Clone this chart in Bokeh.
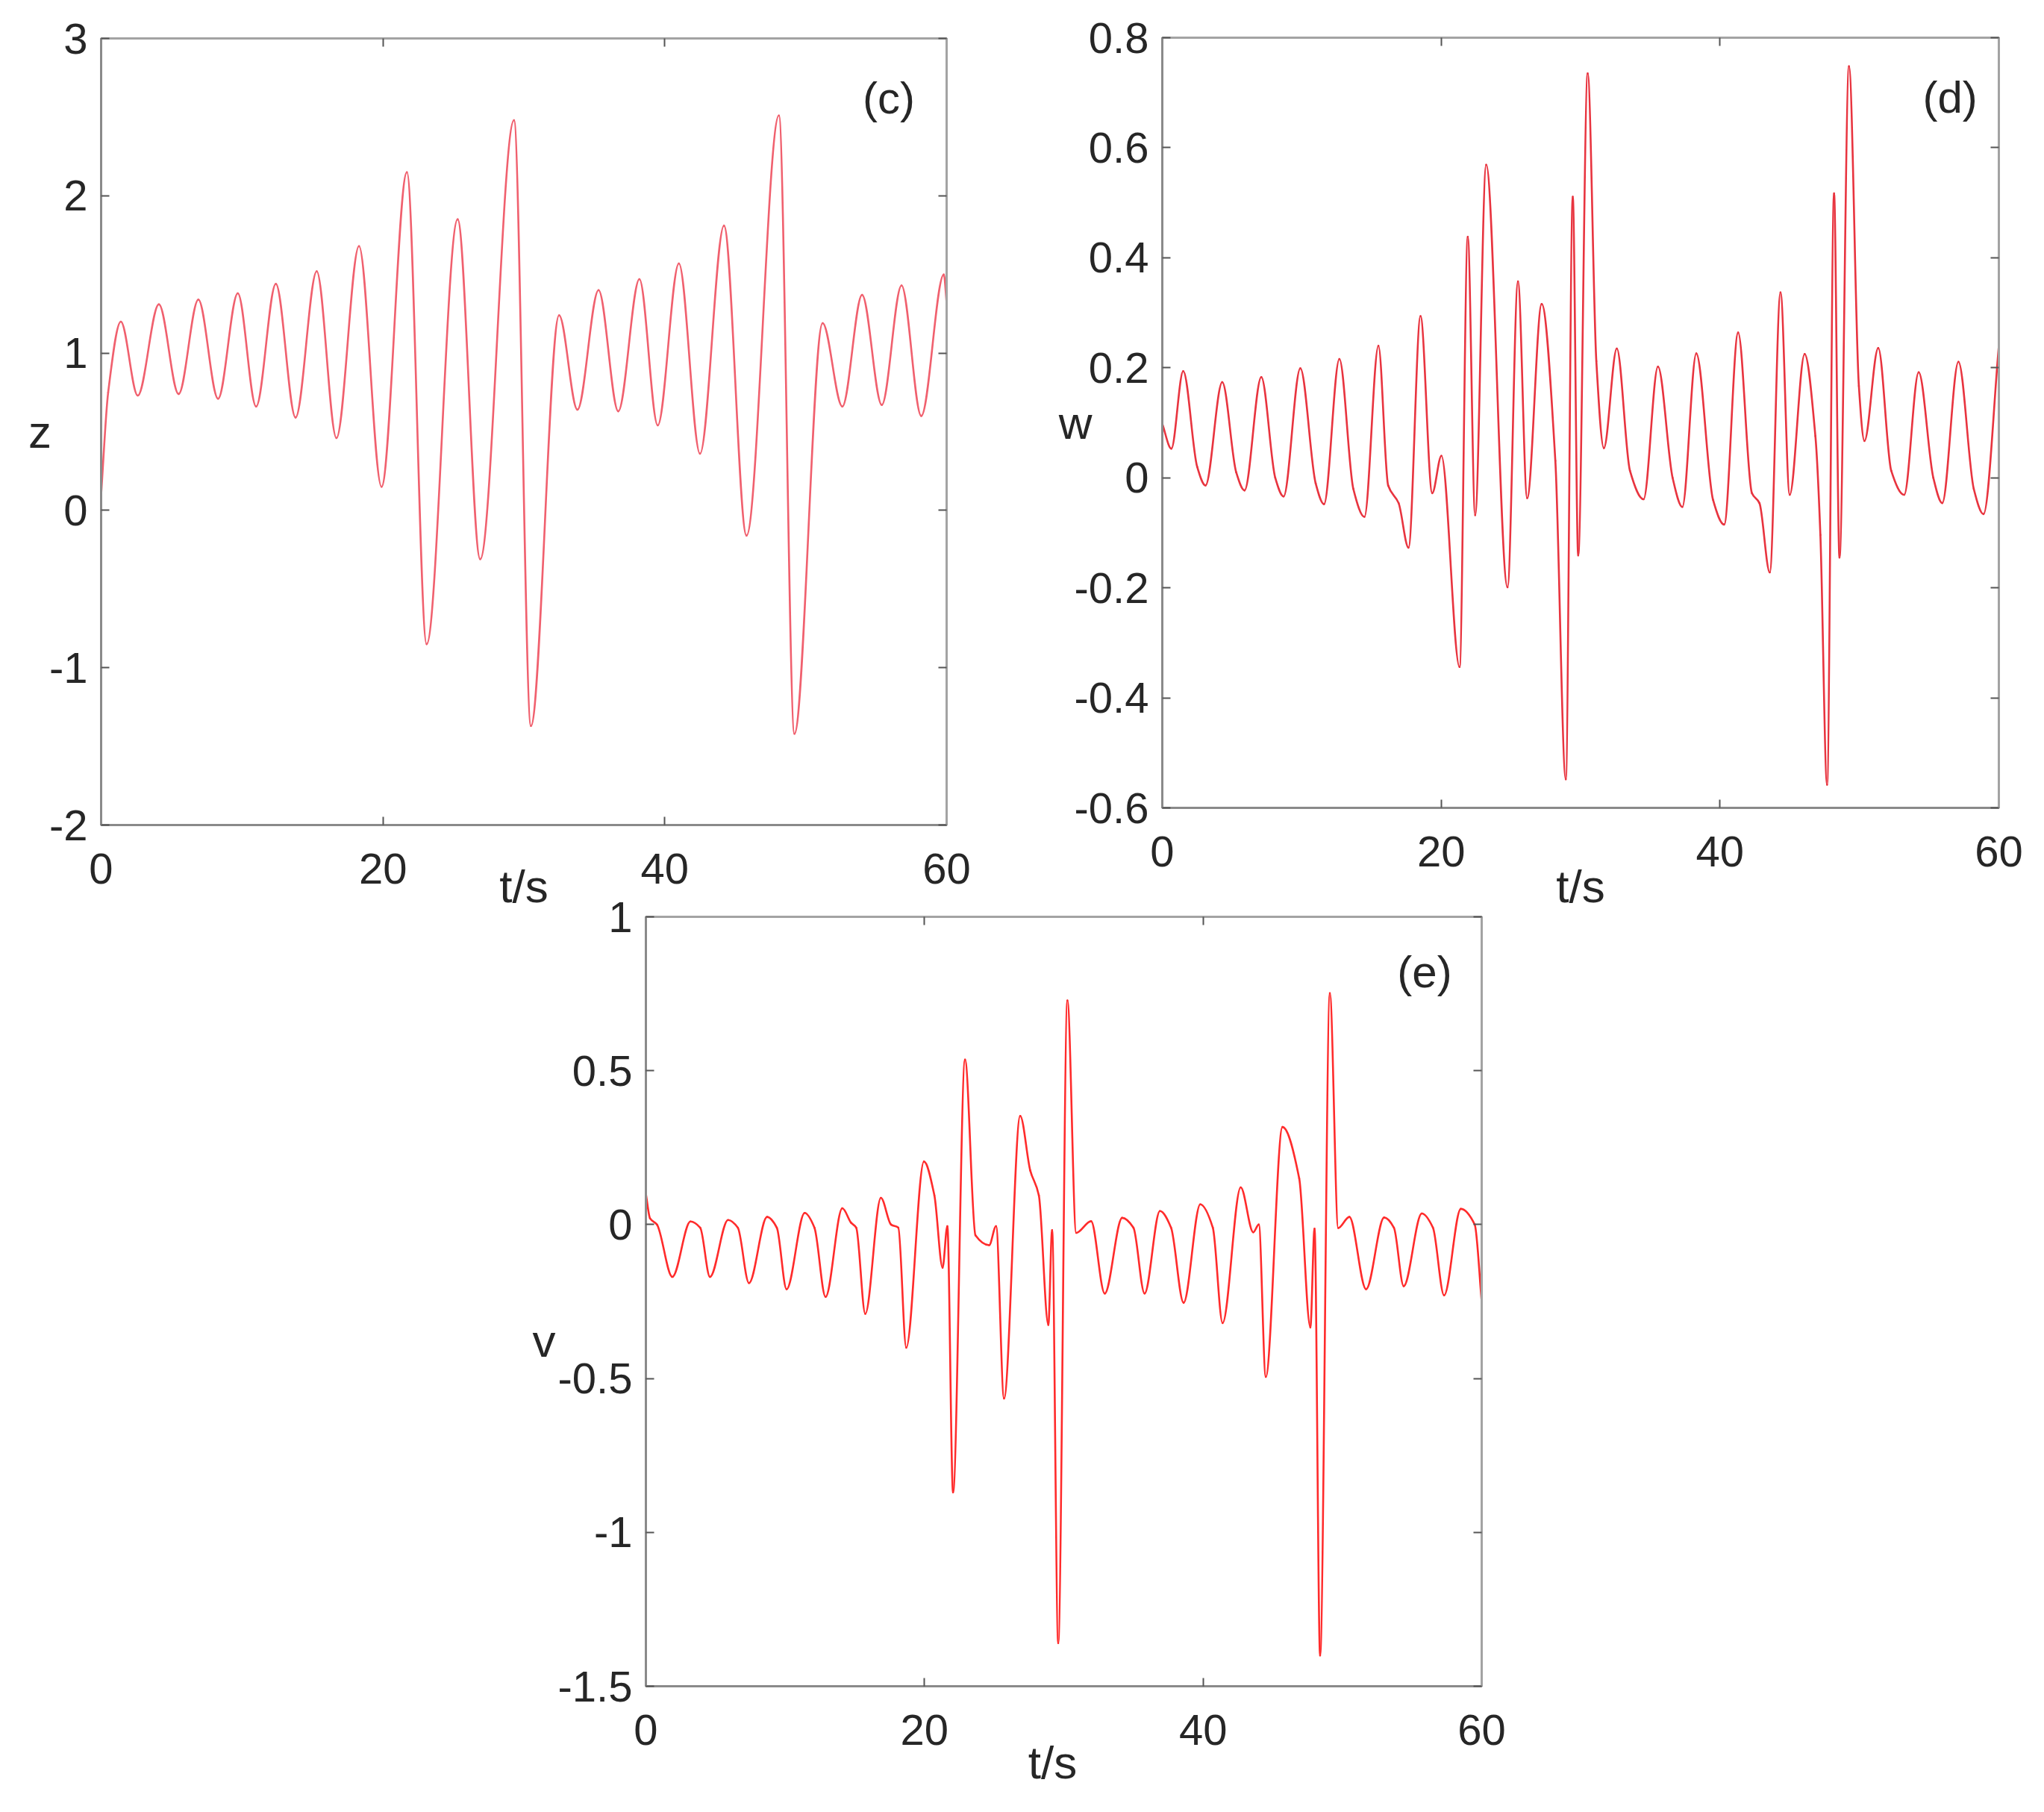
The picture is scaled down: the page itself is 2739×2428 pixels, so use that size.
import numpy as np
from bokeh.plotting import figure
from bokeh.models import (Range1d, FixedTicker, LinearAxis, CustomJSTickFormatter,
                          Label, Spacer, ColumnDataSource)
from bokeh.layouts import row, column
from bokeh.embed import file_html
from bokeh.resources import INLINE

# ---------------- data ----------------
x_ticks = [0, 20, 40, 60]
x_tick_labels = ["0", "20", "40", "60"]

# panel (c): z(t)
t_z = [0.0, 0.5, 1.4, 2.6, 4.1, 5.5, 6.9, 8.3, 9.7, 11.0, 12.4, 13.8, 15.3, 16.7, 18.3,
       19.9, 21.7, 23.1, 25.3, 26.9, 29.3, 30.5, 32.5, 33.8, 35.3, 36.7, 38.2, 39.5,
       41.0, 42.5, 44.2, 45.8, 48.1, 49.2, 51.2, 52.6, 54.0, 55.4, 56.8, 58.2, 59.8, 60.0]
z_vals = [0.10, 0.75, 1.20, 0.73, 1.31, 0.74, 1.34, 0.71, 1.38, 0.66, 1.44, 0.59, 1.52, 0.46, 1.68,
          0.15, 2.15, -0.85, 1.85, -0.31, 2.48, -1.37, 1.24, 0.64, 1.40, 0.63, 1.47, 0.54,
          1.57, 0.36, 1.81, -0.16, 2.51, -1.42, 1.19, 0.66, 1.37, 0.67, 1.43, 0.60, 1.50, 1.32]
z_ticks = [-2, -1, 0, 1, 2, 3]
z_tick_labels = ["-2", "-1", "0", "1", "2", "3"]

# panel (d): w(t)
t_w = [0.0, 0.65, 1.5, 2.5, 3.1, 4.3, 5.3, 5.9, 7.1, 8.1, 8.7, 9.9, 11.0, 11.6, 12.7, 13.7,
       14.5, 15.5, 16.2, 16.95, 17.66, 18.52, 19.36, 20.02, 21.32, 21.91, 22.44, 23.23,
       24.76, 25.51, 26.17, 27.21, 28.19, 28.94, 29.44, 29.83, 30.51, 31.13, 31.67, 32.6,
       33.54, 34.52, 35.55, 36.6, 37.3, 38.3, 39.5, 40.3, 41.3, 42.29, 42.83, 43.57, 44.34,
       45.0, 46.07, 46.84, 47.2, 47.68, 48.18, 48.57, 49.25, 49.96, 50.36, 51.35, 52.28,
       53.21, 54.25, 55.3, 55.94, 57.1, 58.2, 58.9, 60.0]
w_vals = [0.098, 0.053, 0.194, 0.02, -0.014, 0.174, 0.01, -0.023, 0.183, 0.0, -0.034, 0.199,
          -0.01, -0.048, 0.216, -0.02, -0.071, 0.240, -0.014, -0.046, -0.127, 0.294, -0.028,
          0.040, -0.344, 0.438, -0.068, 0.569, -0.199, 0.357, -0.037, 0.316, 0.031, -0.548,
          0.511, -0.141, 0.735, 0.212, 0.054, 0.235, 0.013, -0.039, 0.202, 0.0, -0.053, 0.226,
          -0.04, -0.085, 0.264, -0.028, -0.046, -0.172, 0.337, -0.031, 0.225, 0.076, -0.104,
          -0.558, 0.517, -0.145, 0.748, 0.167, 0.067, 0.236, 0.013, -0.031, 0.192, 0.0,
          -0.046, 0.211, -0.02, -0.066, 0.240]
w_ticks = [-0.6, -0.4, -0.2, 0, 0.2, 0.4, 0.6, 0.8]
w_tick_labels = ["-0.6", "-0.4", "-0.2", "0", "0.2", "0.4", "0.6", "0.8"]

# panel (e): v(t)
t_v = [0.0, 0.3, 0.8, 1.9, 3.2, 3.9, 4.6, 5.9, 6.6, 7.4, 8.7, 9.4, 10.1, 11.4, 12.1, 12.9,
       14.1, 14.73, 15.1, 15.75, 16.87, 17.6, 18.12, 18.69, 19.96, 20.71, 21.3, 21.64, 22.05,
       22.91, 23.66, 24.64, 25.14, 25.71, 26.87, 27.59, 28.21, 28.89, 29.16, 29.6, 30.26,
       30.89, 31.96, 32.94, 34.19, 35.0, 35.8, 36.9, 37.7, 38.6, 39.8, 40.7, 41.4, 42.7,
       43.6, 44.0, 44.5, 45.7, 46.9, 47.7, 48.0, 48.4, 49.1, 49.7, 50.5, 51.7, 53.0, 53.7,
       54.4, 55.7, 56.5, 57.3, 58.5, 59.5, 60.0]
v_vals = [0.10, 0.02, 0.0, -0.17, 0.01, -0.01, -0.17, 0.015, -0.01, -0.19, 0.025, -0.01,
          -0.21, 0.038, -0.01, -0.235, 0.053, 0.006, -0.01, -0.29, 0.087, 0.0, -0.01, -0.40,
          0.205, 0.095, -0.14, -0.005, -0.87, 0.536, -0.035, -0.067, -0.005, -0.565, 0.353,
          0.176, 0.095, -0.326, -0.018, -1.36, 0.728, -0.027, 0.011, -0.224, 0.022, -0.01,
          -0.224, 0.044, -0.01, -0.254, 0.066, -0.01, -0.32, 0.121, -0.025, 0.0, -0.495,
          0.317, 0.15, -0.334, -0.013, -1.40, 0.752, -0.011, 0.025, -0.21, 0.023, -0.01,
          -0.20, 0.036, -0.01, -0.23, 0.051, 0.0, -0.25]
v_ticks = [-1.5, -1, -0.5, 0, 0.5, 1]
v_tick_labels = ["-1.5", "-1", "-0.5", "0", "0.5", "1"]

# ---------------- styling ----------------
FONT = "Liberation Sans"
TXT = "#262626"
TICK_FS = "58px"
LABEL_FS = "62px"
PANEL_FS = "60px"
FRAME = "#a3a3a3"
AXIS = "#8a8a8a"


def smooth_source(t, v):
    """Monotone cubic Bezier pieces through the read points."""
    t = np.asarray(t, float)
    v = np.asarray(v, float)
    h = np.diff(t)
    d = np.diff(v) / h
    m = np.zeros_like(v)
    m[0] = d[0]
    m[-1] = d[-1]
    for k in range(1, len(v) - 1):
        if d[k - 1] * d[k] > 0:
            m[k] = 2.0 / (1.0 / d[k - 1] + 1.0 / d[k])
    return ColumnDataSource(dict(
        x0=t[:-1], y0=v[:-1], x1=t[1:], y1=v[1:],
        cx0=t[:-1] + h / 3, cy0=v[:-1] + m[:-1] * h / 3,
        cx1=t[1:] - h / 3, cy1=v[1:] - m[1:] * h / 3))


def fmt(tick_vals, tick_labels):
    return CustomJSTickFormatter(args=dict(tvals=tick_vals, tlabels=tick_labels), code="""
        for (let i = 0; i < tvals.length; i++) {
            if (Math.abs(tvals[i] - tick) < 1e-9) { return tlabels[i]; }
        }
        return '';
    """)


def blank_axis(tick_vals):
    ax = LinearAxis(ticker=FixedTicker(ticks=tick_vals),
                    formatter=CustomJSTickFormatter(code="return '';"))
    ax.major_label_text_font_size = "1px"
    ax.major_label_standoff = 0
    ax.major_tick_in = 11
    ax.major_tick_out = 0
    ax.major_tick_line_color = "#555555"
    ax.major_tick_line_width = 2
    ax.minor_tick_line_color = None
    ax.axis_line_color = FRAME
    ax.axis_line_width = 3
    return ax


def make_panel(fw, fh, mbl, mbr, mbt, mbb, yr, yticks, ylabels, t, vals, color,
               ylab, ylab_standoff, xlab, xlab_standoff):
    p = figure(frame_width=fw, frame_height=fh, x_range=Range1d(0, 60), y_range=Range1d(*yr),
               output_backend="svg", toolbar_location=None,
               min_border_left=mbl, min_border_right=mbr,
               min_border_top=mbt, min_border_bottom=mbb)
    p.frame_align = False
    p.background_fill_color = "white"
    p.border_fill_color = None
    p.xgrid.visible = False
    p.ygrid.visible = False
    p.outline_line_color = FRAME
    p.outline_line_width = 3

    p.xaxis.ticker = FixedTicker(ticks=x_ticks)
    p.xaxis.formatter = fmt(x_ticks, x_tick_labels)
    p.yaxis.ticker = FixedTicker(ticks=yticks)
    p.yaxis.formatter = fmt(yticks, ylabels)
    for ax in (p.xaxis[0], p.yaxis[0]):
        ax.major_label_text_font = FONT
        ax.major_label_text_font_size = TICK_FS
        ax.major_label_text_color = TXT
        ax.major_tick_in = 11
        ax.major_tick_out = 0
        ax.major_tick_line_color = "#555555"
        ax.major_tick_line_width = 2
        ax.minor_tick_line_color = None
        ax.axis_line_color = AXIS
        ax.axis_line_width = 3
        ax.axis_label_text_font = FONT
        ax.axis_label_text_font_size = LABEL_FS
        ax.axis_label_text_font_style = "normal"
        ax.axis_label_text_color = TXT
    p.xaxis.major_label_standoff = 38
    p.yaxis.major_label_standoff = 18
    if xlab is not None:
        p.xaxis.axis_label = xlab
        p.xaxis.axis_label_standoff = xlab_standoff
    if ylab is not None:
        p.yaxis.axis_label = ylab
        p.yaxis.axis_label_orientation = "horizontal"
        p.yaxis.axis_label_standoff = ylab_standoff

    p.add_layout(blank_axis(yticks), "right")
    p.add_layout(blank_axis(x_ticks), "above")

    src = smooth_source(t, vals)
    p.bezier(x0="x0", y0="y0", x1="x1", y1="y1", cx0="cx0", cy0="cy0", cx1="cx1", cy1="cy1",
             source=src, line_color=color, line_width=2.6, line_cap="round", line_join="round")
    return p


def add_text(p, x, y, text, size):
    p.add_layout(Label(x=x, y=y, text=text,
                       text_font=FONT, text_font_size=size, text_color=TXT,
                       text_align="center", text_baseline="middle"))


def title_axis(p, pos, text, standoff, side):
    """An axis title placed at a chosen position, drawn as a lone tick label."""
    ax = LinearAxis(ticker=FixedTicker(ticks=[pos]), formatter=fmt([pos], [text]))
    ax.major_label_text_font = FONT
    ax.major_label_text_font_size = LABEL_FS
    ax.major_label_text_color = TXT
    ax.major_label_standoff = standoff
    ax.major_tick_line_color = None
    ax.minor_tick_line_color = None
    ax.axis_line_color = None
    p.add_layout(ax, side)


pc = make_panel(1133, 1054, 135, 129, 51, 150, (-2, 3), z_ticks, z_tick_labels,
                t_z, z_vals, "#f0606e", "z", -6, "t/s", -34)
add_text(pc, 55.9, 2.62, "(c)", PANEL_FS)

pd = make_panel(1121, 1032, 160, 40, 50, 173, (-0.6, 0.8), w_ticks, w_tick_labels,
                t_w, w_vals, "#e8343f", "w", -27, "t/s", -11)
add_text(pd, 56.5, 0.691, "(d)", PANEL_FS)

pe = make_panel(1120, 1031, 165, 40, 40, 152, (-1.5, 1), v_ticks, v_tick_labels,
                t_v, v_vals, "#ff2b2b", None, 0, None, 0)
title_axis(pe, -0.377, "v", -6, "left")
title_axis(pe, 29.2, "t/s", -20, "below")
add_text(pe, 55.9, 0.82, "(e)", PANEL_FS)

top_row = row(pc, pd)
bottom_row = row(Spacer(width=700, height=1223), pe, margin=(-67, 0, 0, 0))
layout = column(top_row, bottom_row)

with open("out.html", "w") as f:
    f.write(file_html(layout, INLINE))
